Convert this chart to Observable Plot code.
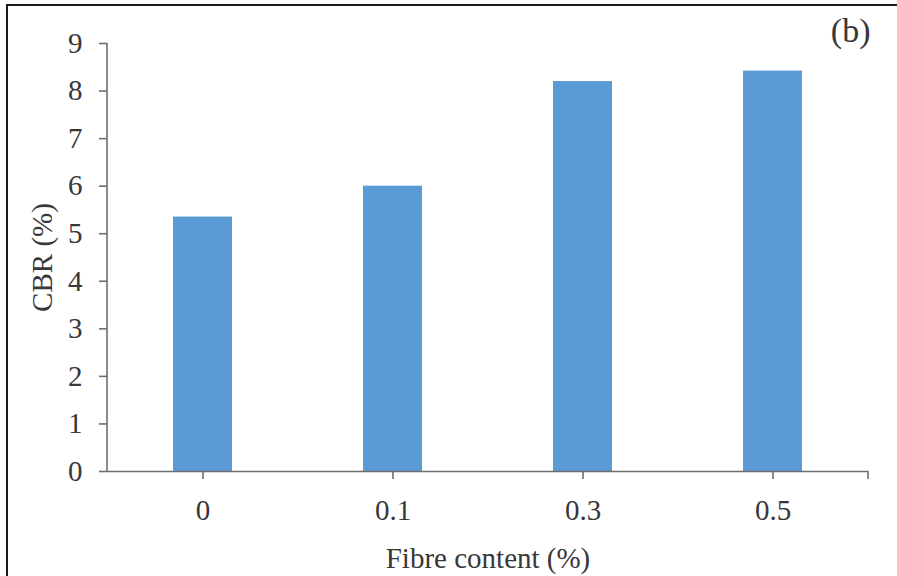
<!DOCTYPE html>
<html>
<head>
<meta charset="utf-8">
<script src="https://cdn.jsdelivr.net/npm/d3@7"></script>
<script src="https://cdn.jsdelivr.net/npm/@observablehq/plot@0.6"></script>
<style>
  html, body { margin: 0; padding: 0; background: #fff; }
  #wrap { position: relative; width: 897px; height: 576px; overflow: hidden; }
  #border { position: absolute; left: 6px; top: 4px; width: 1000px; height: 1000px;
            border-left: 2px solid #1a1a1a; border-top: 2px solid #1a1a1a; pointer-events: none; }
</style>
</head>
<body>
<div id="wrap"><div id="border"></div></div>
<script>
const categories = ["0", "0.1", "0.3", "0.5"];
const cbrValues = [5.35, 6.0, 8.2, 8.42];
const yTicks = [0, 1, 2, 3, 4, 5, 6, 7, 8, 9];
const panelLabel = ["(b)"];

const data = categories.map((c, i) => ({fibre: c, cbr: cbrValues[i]}));

const font = "'Liberation Serif', 'Times New Roman', serif";
const axisColor = "#6e6e6e";
const textColor = "#383838";

// y-axis line and end tick of x-axis, drawn from the library's scales
function axisLines(index, scales, values, dims) {
  const g = d3.create("svg:g");
  const x0 = dims.marginLeft;
  const x1 = dims.width - dims.marginRight;
  const yb = scales.y(0);
  const yt = scales.y(d3.max(yTicks));
  g.append("line").attr("x1", x0).attr("x2", x0).attr("y1", yt).attr("y2", yb)
    .attr("stroke", axisColor).attr("stroke-width", 1.6);
  g.append("line").attr("x1", x1).attr("x2", x1).attr("y1", yb).attr("y2", yb + 8)
    .attr("stroke", axisColor).attr("stroke-width", 1.6);
  return g.node();
}

const chart = Plot.plot({
  width: 897,
  height: 576,
  marginLeft: 107,
  marginRight: 29,
  marginTop: 43,
  marginBottom: 105,
  style: {fontFamily: font, background: "transparent", color: textColor},
  x: {domain: categories, paddingInner: 0.69, paddingOuter: 0.345},
  y: {domain: [0, 9]},
  marks: [
    Plot.barY(data, {x: "fibre", y: "cbr", fill: "#5b9bd5"}),
    Plot.ruleY([0], {stroke: axisColor, strokeWidth: 1.6}),
    axisLines,
    Plot.axisY({
      ticks: yTicks, tickSize: 8, tickPadding: 17, stroke: axisColor, strokeWidth: 1.6,
      fontSize: 29, fill: textColor,
      label: "CBR (%)", labelAnchor: "center", labelArrow: "none", labelOffset: 76
    }),
    Plot.axisX({
      tickSize: 8, tickPadding: 20, stroke: axisColor, strokeWidth: 1.6,
      fontSize: 29, fill: textColor,
      label: "Fibre content (%)", labelAnchor: "center", labelArrow: "none", labelOffset: 96
    }),
    Plot.text(panelLabel, {
      text: d => d, frameAnchor: "top-right", textAnchor: "end", lineAnchor: "middle",
      dx: 2, dy: -12, fontSize: 34, fill: textColor, fontFamily: font
    })
  ]
});
chart.style.position = "absolute";
chart.style.left = "0px";
chart.style.top = "0px";
document.getElementById("wrap").prepend(chart);
</script>
</body>
</html>
